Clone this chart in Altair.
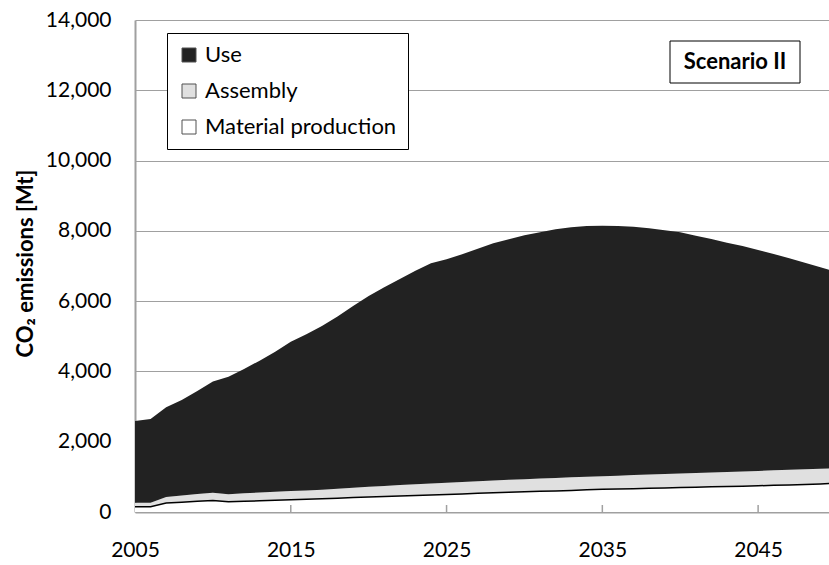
import altair as alt
import pandas as pd

years = list(range(2005, 2051))

material = [150, 150, 255, 280, 305, 330, 290, 305, 320, 335,
            350, 360, 375, 390, 410, 425, 440, 455, 470, 485,
            500, 515, 530, 545, 560, 575, 590, 600, 615, 630,
            645, 655, 665, 675, 685, 695, 705, 715, 725, 735,
            745, 760, 770, 785, 800, 815]

assembly = [115, 115, 175, 190, 205, 215, 215, 225, 235, 240,
            245, 250, 260, 270, 280, 295, 300, 310, 320, 325,
            335, 340, 345, 350, 355, 360, 365, 370, 375, 375,
            375, 380, 385, 390, 395, 400, 405, 410, 415, 420,
            425, 425, 430, 430, 430, 430]

use = [2325, 2382, 2550, 2717, 2933, 3165, 3345, 3540, 3751, 3987,
       4252, 4446, 4658, 4900, 5170, 5427, 5654, 5865, 6078, 6267,
       6356, 6478, 6619, 6751, 6845, 6939, 7004, 7075, 7112, 7134,
       7128, 7104, 7070, 7008, 6936, 6865, 6754, 6644, 6525, 6415,
       6286, 6157, 6019, 5881, 5733, 5585]

series_names = ["Use", "Assembly", "Material production"]
series_colors = ["#222222", "#e0e0e0", "#ffffff"]
x_tick_years = [2005, 2015, 2025, 2035, 2045]
y_ticks = [0, 2000, 4000, 6000, 8000, 10000, 12000, 14000]
y_title = "CO₂ emissions [Mt]"
scenario_label = ["Scenario II"]

rows = []
for i, yr in enumerate(years):
    rows.append({"year": yr, "series": "Material production", "value": material[i], "ord": 0})
    rows.append({"year": yr, "series": "Assembly", "value": assembly[i], "ord": 1})
    rows.append({"year": yr, "series": "Use", "value": use[i], "ord": 2})
df = pd.DataFrame(rows)
df_mat = pd.DataFrame({"year": years, "value": material})

FONT = "Lato"
xscale = alt.Scale(domain=[2005, 2049.55], nice=False, zero=False)
yscale = alt.Scale(domain=[0, 14000], nice=False)

areas = alt.Chart(df).mark_area(clip=True, opacity=1).encode(
    x=alt.X("year:Q", scale=xscale,
            axis=alt.Axis(values=x_tick_years, format="d", ticks=False, grid=False,
                          labelFont=FONT, labelFontSize=21, labelColor="black",
                          labelPadding=27, labelFlush=False, labelOverlap=False,
                          domainColor="#a0a0a0", domainWidth=2, title=None)),
    y=alt.Y("value:Q", stack="zero", scale=yscale,
            axis=alt.Axis(values=y_ticks, format=",.0f", ticks=False, grid=True,
                          gridColor="#a0a0a0", gridWidth=1.2,
                          labelFont=FONT, labelFontSize=21, labelColor="black",
                          labelPadding=24, domainColor="#a0a0a0", domainWidth=2,
                          title=y_title, titleFont=FONT, titleFontSize=22,
                          titleFontWeight="bold", titleColor="black",
                          titleAngle=270, titleX=-103, titleY=243,
                          titleAlign="center", titleBaseline="alphabetic")),
    color=alt.Color("series:N",
                    scale=alt.Scale(domain=series_names, range=series_colors),
                    legend=alt.Legend(orient="none", legendX=32, legendY=13,
                                      title=None, fillColor="white",
                                      strokeColor="black", padding=11,
                                      symbolType="square", symbolSize=196,
                                      symbolStrokeColor="#505050",
                                      symbolStrokeWidth=1, symbolOpacity=1,
                                      labelFont=FONT, labelFontSize=22,
                                      labelColor="black", rowPadding=14,
                                      labelOffset=5, labelLimit=400)),
    order=alt.Order("ord:Q"),
)

mat_line = alt.Chart(df_mat).mark_line(color="black", strokeWidth=1.5, clip=True).encode(
    x=alt.X("year:Q", scale=xscale),
    y=alt.Y("value:Q", scale=yscale),
)

ticks = alt.Chart(pd.DataFrame({"year": x_tick_years[1:]})).mark_rule(
    color="#a0a0a0", strokeWidth=1.5).encode(
    x=alt.X("year:Q", scale=xscale),
    y=alt.value(485), y2=alt.value(492),
)

sc_df = pd.DataFrame({"label": scenario_label})
sc_box = alt.Chart(sc_df).mark_rect(fill="white", stroke="black", strokeWidth=1).encode(
    x=alt.value(535), x2=alt.value(665), y=alt.value(21), y2=alt.value(63),
)
sc_text = alt.Chart(sc_df).mark_text(font=FONT, fontSize=22, fontWeight="bold",
                                     color="black", baseline="middle", align="center").encode(
    x=alt.value(600), y=alt.value(42), text="label:N",
)

chart = alt.layer(areas, mat_line, ticks, sc_box, sc_text).properties(
    width=694, height=492,
    padding={"left": 135, "top": 20, "right": 0, "bottom": 53},
    autosize=alt.AutoSizeParams(type="none"),
).configure_view(stroke=None)

chart.save("out.html", embed_options={"renderer": "svg", "actions": False})
